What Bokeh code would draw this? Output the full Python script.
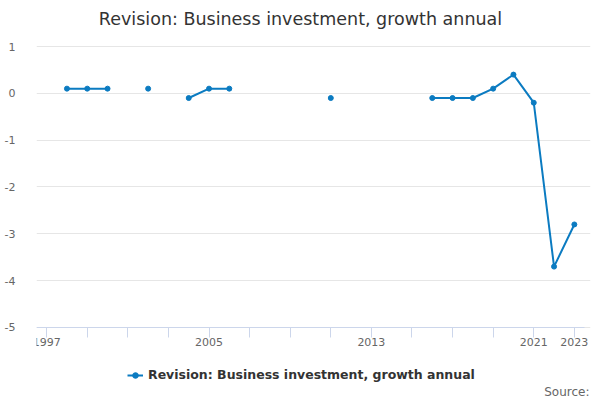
import numpy as np
from bokeh.plotting import figure
from bokeh.models import (ColumnDataSource, FixedTicker, Legend, LegendItem, Label)
from bokeh.embed import file_html
from bokeh.resources import INLINE

years = list(range(1997, 2024))
values = [None, 0.1, 0.1, 0.1, None, 0.1, None, -0.1, 0.1, 0.1,
          None, None, None, None, -0.1, None, None, None, None, -0.1,
          -0.1, -0.1, 0.1, 0.4, -0.2, -3.7, -2.8]
y_ticks = [-5, -4, -3, -2, -1, 0, 1]
x_ticks = list(range(1997, 2024, 2))
x_labels = {1997: "1997", 2005: "2005", 2013: "2013", 2021: "2021", 2023: "2023"}
series_name = "Revision: Business investment, growth annual"
title_text = "Revision: Business investment, growth annual"
source_text = "Source:"

FONT = "DejaVu Sans"
COLOR = "#0b7bc1"

y = [np.nan if v is None else v for v in values]
src = ColumnDataSource(dict(x=years, y=y))

# frame spans x 36..590, y 10..400 of the canvas; the axis baseline sits at -5
p = figure(width=600, height=400, output_backend="svg", toolbar_location=None,
           title=None, x_axis_location="above",
           x_range=(1996.5, 2023.796), y_range=(-6.5588, 1.7687),
           min_border_left=36, min_border_right=10, min_border_top=10,
           min_border_bottom=0)
p.outline_line_color = None
p.background_fill_color = "white"
p.border_fill_color = "white"

# grids
p.xgrid.grid_line_color = None
p.ygrid.ticker = FixedTicker(ticks=y_ticks)
p.ygrid.grid_line_color = "#e6e6e6"
p.ygrid.grid_line_width = 1

# y axis
p.yaxis.ticker = FixedTicker(ticks=y_ticks)
p.yaxis.major_label_overrides = {t: str(t) for t in y_ticks}
p.yaxis.axis_line_color = None
p.yaxis.major_tick_line_color = None
p.yaxis.minor_tick_line_color = None
p.yaxis.major_label_text_font = FONT
p.yaxis.major_label_text_font_size = "11px"
p.yaxis.major_label_text_color = "#666666"
p.yaxis.major_label_standoff = 15

# x axis drawn at y = -5, ticks and labels pointing down
xa = p.xaxis[0]
xa.fixed_location = -5
xa.bounds = (1996.5, 2023.5)
xa.ticker = FixedTicker(ticks=x_ticks)
xa.major_label_overrides = {t: x_labels.get(t, "") for t in x_ticks}
xa.axis_line_color = "#ccd6eb"
xa.major_tick_line_color = "#ccd6eb"
xa.major_tick_in = 10
xa.major_tick_out = 0
xa.minor_tick_line_color = None
xa.major_label_text_font = FONT
xa.major_label_text_font_size = "11px"
xa.major_label_text_color = "#666666"
xa.major_label_standoff = -19

ln = p.line("x", "y", source=src, line_color=COLOR, line_width=2)
sc = p.scatter("x", "y", source=src, size=5, fill_color=COLOR, line_color=COLOR)

legend = Legend(items=[LegendItem(label=series_name, renderers=[ln, sc])],
                location=(91, 18), orientation="horizontal",
                background_fill_alpha=0, border_line_color=None,
                glyph_width=16, glyph_height=14, label_standoff=5,
                label_text_font=FONT, label_text_font_size="12.5px",
                label_text_font_style="bold", label_text_color="#333333",
                padding=0, margin=0)
p.add_layout(legend, "center")

title_label = Label(x=264, y=382, x_units="screen", y_units="screen",
                    text=title_text, text_align="center", text_baseline="middle",
                    text_font=FONT, text_font_size="17.5px", text_color="#333333")
p.add_layout(title_label)

src_label = Label(x=553, y=9, x_units="screen", y_units="screen",
                  text=source_text, text_align="right", text_baseline="middle",
                  text_font=FONT, text_font_size="12px", text_color="#666666")
p.add_layout(src_label)

open("out.html", "w").write(file_html(p, INLINE))
